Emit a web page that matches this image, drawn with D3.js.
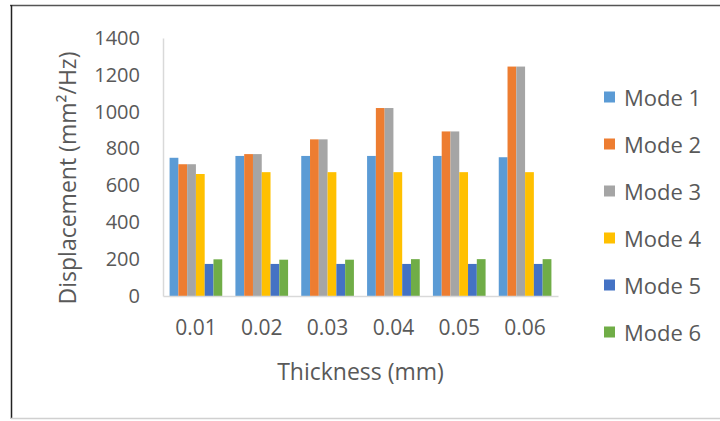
<!DOCTYPE html>
<html>
<head>
<meta charset="utf-8">
<script src="https://cdn.jsdelivr.net/npm/d3@7"></script>
<style>
  body { margin: 0; background: #fff; }
  text { font-family: "Open Sans", "Liberation Sans", sans-serif; fill: #595959; }
</style>
</head>
<body>
<div class="chart"></div>
<script>
// data
const thickness = ["0.01", "0.02", "0.03", "0.04", "0.05", "0.06"];
const modes = ["Mode 1", "Mode 2", "Mode 3", "Mode 4", "Mode 5", "Mode 6"];
const mode1 = [750, 760, 760, 760, 760, 753];
const mode2 = [715, 770, 850, 1020, 893, 1245];
const mode3 = [715, 770, 850, 1020, 893, 1245];
const mode4 = [662, 672, 672, 672, 672, 672];
const mode5 = [174, 174, 174, 174, 174, 174];
const mode6 = [199, 197, 197, 200, 200, 200];
const yTicks = [0, 200, 400, 600, 800, 1000, 1200, 1400];
const colors = ["#5B9BD5", "#ED7D31", "#A5A5A5", "#FFC000", "#4472C4", "#70AD47"];

const series = [mode1, mode2, mode3, mode4, mode5, mode6];

const width = 720, height = 421;
const plot = { left: 163, right: 558, top: 38, bottom: 296 };

const svg = d3.select(".chart").append("svg")
  .attr("width", width)
  .attr("height", height);

// frame
svg.append("line").attr("x1", 10).attr("x2", width).attr("y1", 5.5).attr("y2", 5.5)
  .attr("stroke", "#555").attr("stroke-width", 1.5);
svg.append("line").attr("x1", 11.5).attr("x2", 11.5).attr("y1", 5).attr("y2", 419)
  .attr("stroke", "#222").attr("stroke-width", 1.5);
svg.append("line").attr("x1", 11).attr("x2", width).attr("y1", 418.5).attr("y2", 418.5)
  .attr("stroke", "#d0d0d0").attr("stroke-width", 1.5);

//scales
const x0 = d3.scaleBand()
  .domain(thickness)
  .range([plot.left, plot.right])
  .paddingInner(0.2)
  .paddingOuter(0.1);

const x1 = d3.scaleBand()
  .domain(modes)
  .range([0, x0.bandwidth()]);

const y = d3.scaleLinear()
  .domain([0, 1400])
  .range([plot.bottom, plot.top]);

//bars
const groups = svg.append("g").selectAll("g")
  .data(thickness)
  .enter()
  .append("g")
  .attr("transform", d => "translate(" + x0(d) + ",0)");

groups.selectAll("rect")
  .data((d, i) => modes.map((m, j) => ({ mode: m, value: series[j][i], color: colors[j] })))
  .enter()
  .append("rect")
  .attr("x", d => x1(d.mode))
  .attr("y", d => y(d.value))
  .attr("width", x1.bandwidth())
  .attr("height", d => y(0) - y(d.value))
  .attr("fill", d => d.color);

//y axis
const yAxis = d3.axisLeft(y).tickValues(yTicks).tickFormat(d3.format("d")).tickSize(0).tickPadding(23);
const gy = svg.append("g")
  .attr("transform", "translate(" + plot.left + ",0)")
  .call(yAxis);
gy.select(".domain").attr("stroke", "#d9d9d9").attr("stroke-width", 1.5);
gy.selectAll("text").style("font-size", "20px").attr("fill", "#595959");

//x axis
const xAxis = d3.axisBottom(x0).tickSize(0).tickPadding(24);
const gx = svg.append("g")
  .attr("transform", "translate(0," + plot.bottom + ")")
  .call(xAxis);
gx.select(".domain").attr("stroke", "#d9d9d9").attr("stroke-width", 1.5);
gx.selectAll("text").style("font-size", "21px").attr("fill", "#595959");

//axis titles
svg.append("text")
  .attr("x", (plot.left + plot.right) / 2)
  .attr("y", 371)
  .attr("text-anchor", "middle")
  .attr("dominant-baseline", "central")
  .style("font-size", "23px")
  .text("Thickness (mm)");

svg.append("text")
  .attr("transform", "translate(67,178) rotate(-90)")
  .attr("text-anchor", "middle")
  .attr("dominant-baseline", "central")
  .style("font-size", "23px")
  .text("Displacement (mm²/Hz)");

//legend
const legend = svg.append("g").selectAll("g")
  .data(modes)
  .enter()
  .append("g")
  .attr("transform", (d, i) => "translate(604," + (97 + i * 47) + ")");

legend.append("rect")
  .attr("x", 0)
  .attr("y", -5.5)
  .attr("width", 11)
  .attr("height", 11)
  .attr("fill", (d, i) => colors[i]);

legend.append("text")
  .attr("x", 20)
  .attr("y", 0)
  .attr("dominant-baseline", "central")
  .style("font-size", "22px")
  .text(d => d);
</script>
</body>
</html>
